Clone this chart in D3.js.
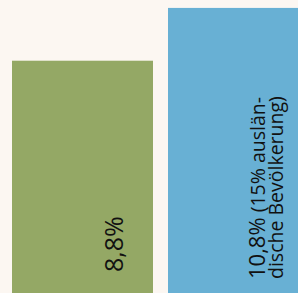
<!DOCTYPE html>
<html>
<head>
<meta charset="utf-8">
<script src="https://cdn.jsdelivr.net/npm/d3@7"></script>
<style>
  body { margin: 0; background: #fcf7f2; }
  svg { display: block; }
</style>
</head>
<body>
<svg width="298" height="293"></svg>
<script>
// data
const categories = ["gesamt", "ausländisch"];
const values = [8.8, 10.8];
const colors = ["#94a865", "#68b0d4"];
const mainLabels = ["8,8%", "10,8%"];
const noteLine1 = ["", " (15% auslän-"];
const noteLine2 = ["", "dische Bevölkerung)"];

const svg = d3.select("svg");
const width = +svg.attr("width");
const height = +svg.attr("height");

const xScale = d3.scaleBand()
  .domain(categories)
  .range([12, 12 + 141 * 2 + 15])
  .paddingInner(15 / 156);

const yScale = d3.scaleLinear()
  .domain([0, 11.1])
  .range([height, 0]);

svg.selectAll("rect.bar")
  .data(values)
  .enter().append("rect")
  .attr("class", "bar")
  .attr("x", (d, i) => xScale(categories[i]))
  .attr("y", d => yScale(d))
  .attr("width", xScale.bandwidth())
  .attr("height", d => height - yScale(d))
  .attr("fill", (d, i) => colors[i]);

// green bar label
svg.append("text")
  .attr("transform", `translate(${xScale(categories[0]) + 111},272) rotate(-90)`)
  .attr("font-family", "Open Sans, sans-serif")
  .attr("font-size", 25)
  .attr("fill", "#111")
  .text(mainLabels[0]);

// blue bar label, two lines
const t = svg.append("text")
  .attr("transform", `translate(${xScale(categories[1]) + 97},279) rotate(-90)`)
  .attr("font-family", "Open Sans, sans-serif")
  .attr("fill", "#111");
t.append("tspan").attr("font-size", 22).text(mainLabels[1]);
t.append("tspan").attr("font-size", 19.5).text(noteLine1[1]);
t.append("tspan").attr("x", 0).attr("dy", 18).attr("font-size", 19.5).text(noteLine2[1]);
</script>
</body>
</html>
